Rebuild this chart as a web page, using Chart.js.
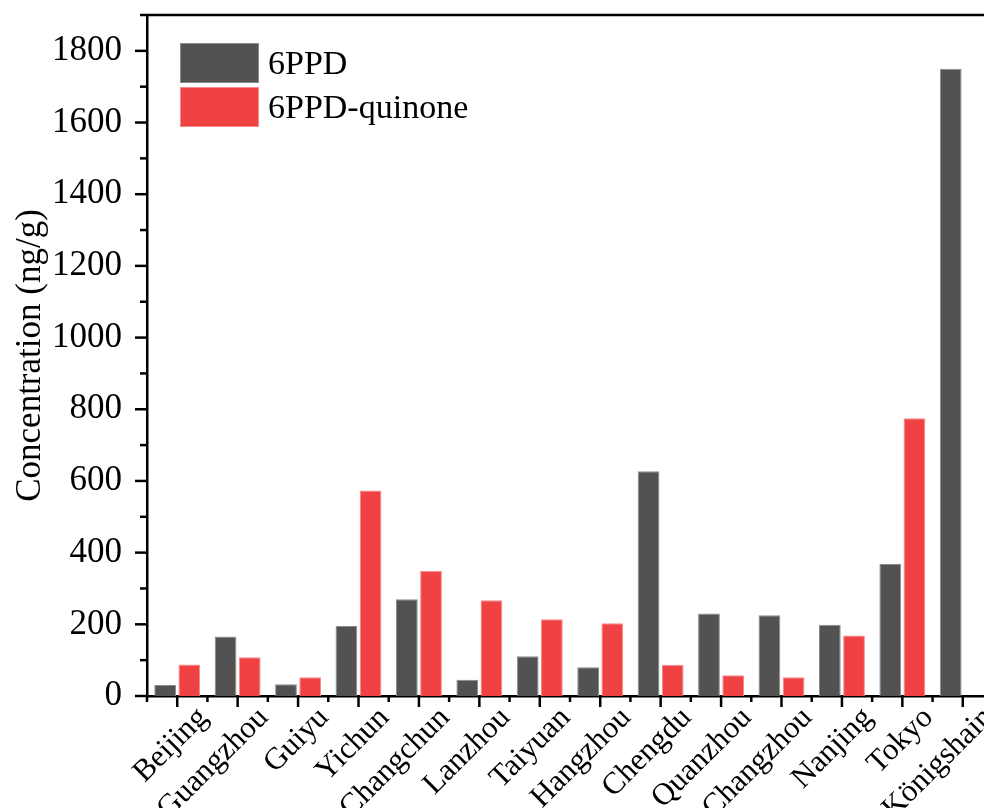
<!DOCTYPE html>
<html>
<head>
<meta charset="utf-8">
<script src="https://cdn.jsdelivr.net/npm/chart.js@4/dist/chart.umd.min.js"></script>
<style>
  html, body { margin: 0; padding: 0; background: #fff; overflow: hidden; }
  #wrap { width: 1000px; height: 808px; }
</style>
</head>
<body>
<div id="wrap"><canvas id="myChart" width="1000" height="808"></canvas></div>
<script>
// Cities along the x axis
const cities = ['Beijing', 'Guangzhou', 'Guiyu', 'Yichun', 'Changchun', 'Lanzhou', 'Taiyuan',
    'Hangzhou', 'Chengdu', 'Quanzhou', 'Changzhou', 'Nanjing', 'Tokyo', 'Königshain'];

// Concentrations in ng/g
const ppd = [31, 166, 33, 195, 270, 45, 111, 80, 627, 230, 225, 199, 368, 1750];
const quinone = [88, 108, 52, 573, 349, 267, 214, 203, 87, 58, 52, 169, 775, null];

const yTicks = [0, 200, 400, 600, 800, 1000, 1200, 1400, 1600, 1800];

const FONT = '"Liberation Serif", "Times New Roman", serif';
const DARK = '#525252';
const RED = '#f04143';

// axis ticks (major + minor), rotated city labels, top frame line and legend
const framePlugin = {
    id: 'frame',
    afterDraw(chart) {
        const ctx = chart.ctx;
        const area = chart.chartArea;
        const x = chart.scales.x;
        const y = chart.scales.y;
        ctx.save();
        ctx.strokeStyle = '#000';
        ctx.lineWidth = 2.5;
        // top frame
        ctx.beginPath();
        ctx.moveTo(area.left, area.top);
        ctx.lineTo(area.right, area.top);
        ctx.stroke();
        // y ticks, major every 200, minor every 100
        for (let v = 0; v <= 1900; v += 100) {
            const py = y.getPixelForValue(v);
            const len = v % 200 === 0 ? 12 : 7;
            ctx.beginPath();
            ctx.moveTo(area.left, py);
            ctx.lineTo(area.left - len, py);
            ctx.stroke();
        }
        // x ticks, major at centers, minor between categories
        const half = (x.getPixelForValue(1) - x.getPixelForValue(0)) / 2;
        for (let i = 0; i < cities.length; i++) {
            const px = x.getPixelForValue(i);
            ctx.beginPath();
            ctx.moveTo(px, area.bottom);
            ctx.lineTo(px, area.bottom + 11);
            ctx.stroke();
            ctx.beginPath();
            ctx.moveTo(px - half, area.bottom);
            ctx.lineTo(px - half, area.bottom + 6);
            ctx.stroke();
        }
        ctx.restore();

        // city labels at 45 degrees
        ctx.save();
        ctx.font = '31px ' + FONT;
        ctx.fillStyle = '#000';
        ctx.textAlign = 'right';
        ctx.textBaseline = 'middle';
        cities.forEach((c, i) => {
            const px = x.getPixelForValue(i);
            ctx.save();
            ctx.translate(px + 26, area.bottom + 17);
            ctx.rotate(-Math.PI / 4);
            ctx.fillText(c, 0, 0);
            ctx.restore();
        });
        ctx.restore();

        // legend
        const items = [
            { label: '6PPD', color: DARK, border: '#8a8a8a' },
            { label: '6PPD-quinone', color: RED, border: '#f58a8b' }
        ];
        ctx.save();
        ctx.font = '34px ' + FONT;
        ctx.textBaseline = 'middle';
        items.forEach((it, k) => {
            const bx = area.left + 33;
            const by = area.top + 28 + k * 44;
            ctx.fillStyle = it.color;
            ctx.fillRect(bx, by, 79, 40);
            ctx.strokeStyle = it.border;
            ctx.lineWidth = 1;
            ctx.strokeRect(bx + 0.5, by + 0.5, 78, 39);
            ctx.fillStyle = '#000';
            ctx.fillText(it.label, bx + 88, by + 22);
        });
        ctx.restore();
    }
};

const ctx = document.getElementById('myChart').getContext('2d');
const myChart = new Chart(ctx, {
    type: 'bar',
    data: {
        labels: cities,
        datasets: [
            {
                label: '6PPD',
                data: ppd,
                backgroundColor: DARK,
                borderColor: '#8a8a8a',
                borderWidth: 1,
            },
            {
                label: '6PPD-quinone',
                data: quinone,
                backgroundColor: RED,
                borderColor: '#f58a8b',
                borderWidth: 1,
            }
        ]
    },
    options: {
        responsive: false,
        animation: false,
        layout: { padding: { top: 15, right: 7, left: 0, bottom: 0 } },
        scales: {
            x: {
                grid: { display: false },
                border: { display: true, color: '#000', width: 2.5 },
                ticks: { display: false },
                categoryPercentage: 0.83,
                barPercentage: 1.0,
                afterFit(scale) {
                    scale.height = 112;
                    scale.paddingLeft = 0;
                    scale.paddingRight = 0;
                }
            },
            y: {
                min: 0,
                max: 1900,
                afterBuildTicks(scale) {
                    scale.ticks = yTicks.map(v => ({ value: v }));
                },
                grid: { display: false },
                border: { display: true, color: '#000', width: 2.5 },
                ticks: {
                    color: '#000',
                    font: { family: FONT, size: 35 },
                    padding: 17,
                    callback: v => String(v)
                },
                title: {
                    display: true,
                    text: 'Concentration (ng/g)',
                    color: '#000',
                    font: { family: FONT, size: 35 },
                    padding: { top: 10, bottom: 0 }
                },
                afterFit(scale) {
                    scale.width = 147;
                    scale.paddingTop = 0;
                    scale.paddingBottom = 0;
                }
            }
        },
        plugins: {
            legend: { display: false },
            tooltip: { enabled: false }
        }
    },
    plugins: [framePlugin]
});
</script>
</body>
</html>
